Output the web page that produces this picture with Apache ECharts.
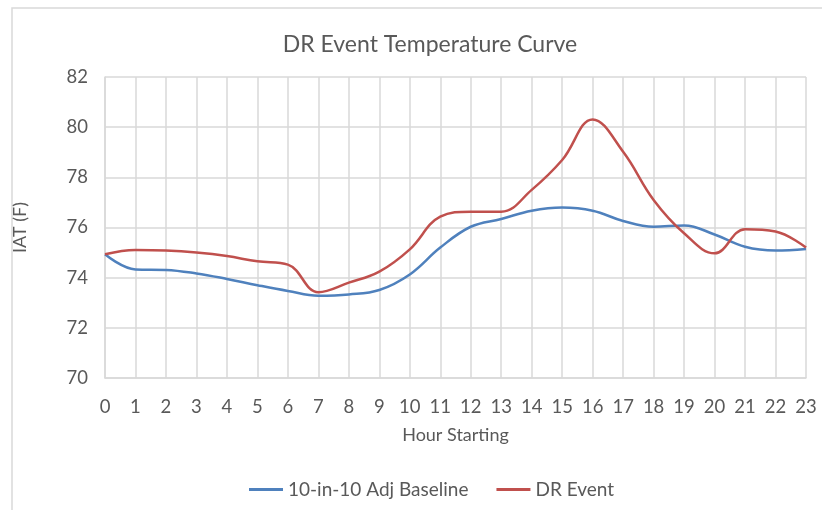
<!DOCTYPE html>
<html><head><meta charset="utf-8">
<script src="https://cdn.jsdelivr.net/npm/echarts@6/dist/echarts.min.js"></script>
<style>html,body{margin:0;padding:0;background:#fff}#c{width:822px;height:510px}</style>
</head><body><div id="c"></div>
<script>
var hours = ['0','1','2','3','4','5','6','7','8','9','10','11','12','13','14','15','16','17','18','19','20','21','22','23'];
var baseline = [74.93,74.33,74.31,74.17,73.95,73.70,73.47,73.28,73.33,73.51,74.13,75.20,76.03,76.34,76.67,76.80,76.67,76.26,76.03,76.08,75.72,75.23,75.08,75.14];
var drEvent = [74.93,75.10,75.08,75.00,74.86,74.65,74.52,73.42,73.80,74.24,75.13,76.43,76.63,76.63,77.50,78.69,80.31,79.02,77.10,75.77,74.97,75.93,75.84,75.20];
var yTicks = {min:70, max:82, interval:2};

var font = 'Lato, "Open Sans", sans-serif';
var txt = '#595959';
var gridCol = '#d9d9d9';
var chart = echarts.init(document.getElementById('c'));
chart.setOption({
  animation:false,
  backgroundColor:'#fff',
  textStyle:{fontFamily:font},
  graphic:[{type:'rect', shape:{x:12,y:8,width:900,height:600}, style:{fill:'none', stroke:gridCol, lineWidth:1.5}, silent:true, z:-1}],
  title:{text:'DR Event Temperature Curve', left:425, textAlign:'center', top:28, textStyle:{fontFamily:font, fontSize:23, fontWeight:'normal', color:txt}},
  legend:{bottom:6, left:244, itemWidth:34, itemHeight:3, itemGap:28, icon:'rect',
    textStyle:{fontFamily:font, fontSize:19, color:txt},
    data:['10-in-10 Adj Baseline','DR Event']},
  grid:{left:105, right:16, top:77, bottom:132, containLabel:false},
  xAxis:{type:'category', data:hours, boundaryGap:false,
    name:'Hour Starting', nameLocation:'middle', nameGap:48,
    nameTextStyle:{fontFamily:font, fontSize:18, color:txt},
    axisLine:{lineStyle:{color:gridCol, width:1.5}}, axisTick:{show:false},
    axisLabel:{fontFamily:font, fontSize:18.5, color:txt, margin:20, interval:0},
    splitLine:{show:true, lineStyle:{color:gridCol, width:1.5}}},
  yAxis:{type:'value', min:yTicks.min, max:yTicks.max, interval:yTicks.interval,
    name:'IAT (F)', nameLocation:'middle', nameGap:76, nameRotate:90,
    nameTextStyle:{fontFamily:font, fontSize:18, color:txt},
    axisLine:{show:true, lineStyle:{color:gridCol, width:1.5}}, axisTick:{show:false},
    axisLabel:{fontFamily:font, fontSize:18.5, color:txt, margin:17},
    splitLine:{show:true, lineStyle:{color:gridCol, width:1.5}}},
  series:[
    {name:'10-in-10 Adj Baseline', type:'line', data:baseline, smooth:0.4, symbol:'none',
      itemStyle:{color:'#4F81BD'}, lineStyle:{color:'#4F81BD', width:2.5}},
    {name:'DR Event', type:'line', data:drEvent, smooth:0.4, symbol:'none',
      itemStyle:{color:'#C0504D'}, lineStyle:{color:'#C0504D', width:2.5}}
  ]
});
</script></body></html>
